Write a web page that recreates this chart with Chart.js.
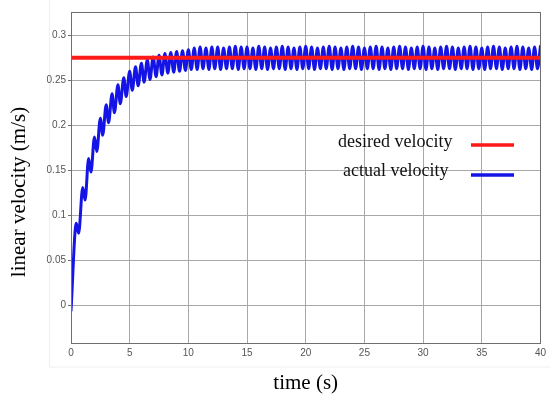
<!DOCTYPE html>
<html>
<head>
<meta charset="utf-8">
<title>linear velocity</title>
<script src="https://cdn.jsdelivr.net/npm/chart.js@4.4.1/dist/chart.umd.min.js"></script>
<style>
  body { margin: 0; background: #fff; }
  #wrap { width: 550px; height: 399px; }
</style>
</head>
<body>
<div id="wrap"><canvas id="velChart" width="550" height="399"></canvas></div>
<script>
// time stamps (s) at each peak / trough of the actual velocity trace
const timeSec = [
  0, 0.45, 0.65, 1.0, 1.2, 1.5, 1.7, 2.0, 2.2, 2.5, 2.7, 3.0, 3.2, 3.5, 3.7, 4.0, 4.2, 4.5, 4.7, 5.0, 5.22,
  5.5, 5.72, 6.0, 6.23, 6.5, 6.73, 7.0, 7.25, 7.5, 7.75, 8.0, 8.25, 8.5, 8.75, 9.0, 9.25, 9.5, 9.75, 10.0, 10.25,
  10.5, 10.75, 11, 11.25, 11.5, 11.75, 12, 12.25, 12.5, 12.75, 13, 13.25, 13.5, 13.75, 14, 14.25, 14.5, 14.75, 15, 15.25,
  15.5, 15.75, 16, 16.25, 16.5, 16.75, 17, 17.25, 17.5, 17.75, 18, 18.25, 18.5, 18.75, 19, 19.25, 19.5, 19.75, 20, 20.25,
  20.5, 20.75, 21, 21.25, 21.5, 21.75, 22, 22.25, 22.5, 22.75, 23, 23.25, 23.5, 23.75, 24, 24.25, 24.5, 24.75, 25, 25.25,
  25.5, 25.75, 26, 26.25, 26.5, 26.75, 27, 27.25, 27.5, 27.75, 28, 28.25, 28.5, 28.75, 29, 29.25, 29.5, 29.75, 30, 30.25,
  30.5, 30.75, 31, 31.25, 31.5, 31.75, 32, 32.25, 32.5, 32.75, 33, 33.25, 33.5, 33.75, 34, 34.25, 34.5, 34.75, 35, 35.25,
  35.5, 35.75, 36, 36.25, 36.5, 36.75, 37, 37.25, 37.5, 37.75, 38, 38.25, 38.5, 38.75, 39, 39.25, 39.5, 39.75, 40
];

// actual velocity (m/s) at those times
const actualVel = [
  -0.006, 0.091, 0.080, 0.131, 0.117, 0.163, 0.148, 0.187, 0.171, 0.208, 0.189, 0.223, 0.203, 0.235, 0.214, 0.245, 0.224, 0.253, 0.232, 0.260, 0.239,
  0.265, 0.244, 0.269, 0.248, 0.273, 0.251, 0.276, 0.254, 0.278, 0.256, 0.280, 0.258, 0.281, 0.259, 0.282, 0.260, 0.283, 0.261, 0.284, 0.262,
  0.286, 0.262, 0.287, 0.263, 0.286, 0.262, 0.287, 0.263, 0.287, 0.262, 0.286, 0.263, 0.287, 0.263, 0.288, 0.262, 0.287, 0.263, 0.287, 0.263,
  0.286, 0.262, 0.288, 0.263, 0.287, 0.262, 0.286, 0.263, 0.287, 0.263, 0.288, 0.262, 0.287, 0.263, 0.286, 0.262, 0.287, 0.263, 0.288, 0.263,
  0.287, 0.262, 0.286, 0.263, 0.287, 0.263, 0.288, 0.262, 0.287, 0.263, 0.286, 0.262, 0.287, 0.263, 0.288, 0.263, 0.287, 0.262, 0.286, 0.263,
  0.287, 0.263, 0.288, 0.262, 0.287, 0.263, 0.286, 0.262, 0.287, 0.263, 0.288, 0.263, 0.287, 0.262, 0.286, 0.263, 0.287, 0.263, 0.288, 0.262,
  0.287, 0.263, 0.286, 0.262, 0.287, 0.263, 0.288, 0.263, 0.287, 0.262, 0.286, 0.263, 0.287, 0.263, 0.288, 0.262, 0.287, 0.263, 0.286, 0.262,
  0.287, 0.263, 0.288, 0.263, 0.287, 0.262, 0.286, 0.263, 0.287, 0.263, 0.288, 0.262, 0.287, 0.263, 0.286, 0.262, 0.287, 0.263, 0.288
];

// desired velocity: constant reference
const desiredTime = [0, 40];
const desiredVel = [0.275, 0.275];

const xTicks = [0, 5, 10, 15, 20, 25, 30, 35, 40];
const yTicks = [0, 0.05, 0.1, 0.15, 0.2, 0.25, 0.3];

const legendLabels = ['desired velocity', 'actual velocity'];

const RED = '#ff1a1a';
const BLUE = '#1414e6';
const AXIS = '#6e6e6e';
const SERIF = '"Liberation Serif", "Times New Roman", serif';

const toPoints = (xs, ys) => xs.map((x, i) => ({ x: x, y: ys[i] }));

const frameAndText = {
    id: 'frameAndText',
    beforeDraw: (chart) => {
        const ctx = chart.ctx;
        ctx.save();
        ctx.fillStyle = '#fff';
        ctx.fillRect(0, 0, chart.width, chart.height);
        // faint figure outline
        ctx.strokeStyle = '#efefef';
        ctx.lineWidth = 1;
        ctx.strokeRect(49.5, -1, 502, 368);
        ctx.restore();
    },
    afterDatasetsDraw: (chart) => {
        const a = chart.chartArea;
        const ctx = chart.ctx;
        ctx.save();
        ctx.strokeStyle = AXIS;
        ctx.lineWidth = 1;
        ctx.strokeRect(Math.round(a.left) + 0.5, Math.round(a.top) + 0.5,
            Math.round(a.right - a.left), Math.round(a.bottom - a.top));
        ctx.restore();
    },
    afterDraw: (chart) => {
        const ctx = chart.ctx;
        const a = chart.chartArea;
        ctx.save();
        ctx.fillStyle = '#000';
        ctx.font = '21px ' + SERIF;
        ctx.textAlign = 'center';
        ctx.textBaseline = 'middle';
        ctx.fillText('time (s)', (a.left + a.right) / 2, 383);
        ctx.translate(19, 192);
        ctx.rotate(-Math.PI / 2);
        ctx.fillText('linear velocity (m/s)', 0, 0);
        ctx.restore();

        // legend inside the plot
        ctx.save();
        ctx.font = '18px ' + SERIF;
        ctx.fillStyle = '#111';
        ctx.textAlign = 'left';
        ctx.textBaseline = 'middle';
        ctx.fillText(legendLabels[0], 338, 142);
        ctx.fillText(legendLabels[1], 343, 171);
        ctx.lineWidth = 3.5;
        ctx.strokeStyle = RED;
        ctx.beginPath();
        ctx.moveTo(471, 145);
        ctx.lineTo(514, 145);
        ctx.stroke();
        ctx.strokeStyle = BLUE;
        ctx.beginPath();
        ctx.moveTo(471, 175);
        ctx.lineTo(514, 175);
        ctx.stroke();
        ctx.restore();
    }
};

new Chart(document.getElementById('velChart'), {
    type: 'line',
    data: {
        datasets: [
            {
                // first dataset is painted last, so the reference line sits on top
                label: legendLabels[0],
                data: toPoints(desiredTime, desiredVel),
                borderColor: RED,
                borderWidth: 4,
                pointRadius: 0,
                fill: false
            },
            {
                label: legendLabels[1],
                data: toPoints(timeSec, actualVel),
                borderColor: BLUE,
                borderWidth: 3,
                pointRadius: 0,
                cubicInterpolationMode: 'monotone',
                borderJoinStyle: 'round',
                borderCapStyle: 'round',
                fill: false
            }
        ]
    },
    options: {
        responsive: false,
        animation: false,
        layout: { padding: { left: 0, top: 12, right: 8, bottom: 0 } },
        plugins: {
            legend: { display: false },
            tooltip: { enabled: false }
        },
        scales: {
            x: {
                type: 'linear',
                min: 0,
                max: 40,
                afterBuildTicks: (s) => { s.ticks = xTicks.map((v) => ({ value: v })); },
                afterFit: (s) => { s.height = 56; },
                ticks: {
                    color: '#555',
                    font: { family: '"Liberation Sans", Arial, sans-serif', size: 10 },
                    padding: 4,
                    maxRotation: 0,
                    autoSkip: false,
                    callback: (v) => String(v)
                },
                grid: { color: '#a8a8a8', lineWidth: 1, drawTicks: false },
                border: { color: AXIS }
            },
            y: {
                min: -0.042,
                max: 0.326,
                afterBuildTicks: (s) => { s.ticks = yTicks.map((v) => ({ value: v })); },
                afterFit: (s) => { s.width = 71; },
                ticks: {
                    color: '#555',
                    font: { family: '"Liberation Sans", Arial, sans-serif', size: 10 },
                    padding: 2,
                    autoSkip: false,
                    callback: (v) => String(v)
                },
                grid: { color: '#a8a8a8', lineWidth: 1, tickLength: 3, tickColor: AXIS },
                border: { color: AXIS }
            }
        }
    },
    plugins: [frameAndText]
});
</script>
</body>
</html>
